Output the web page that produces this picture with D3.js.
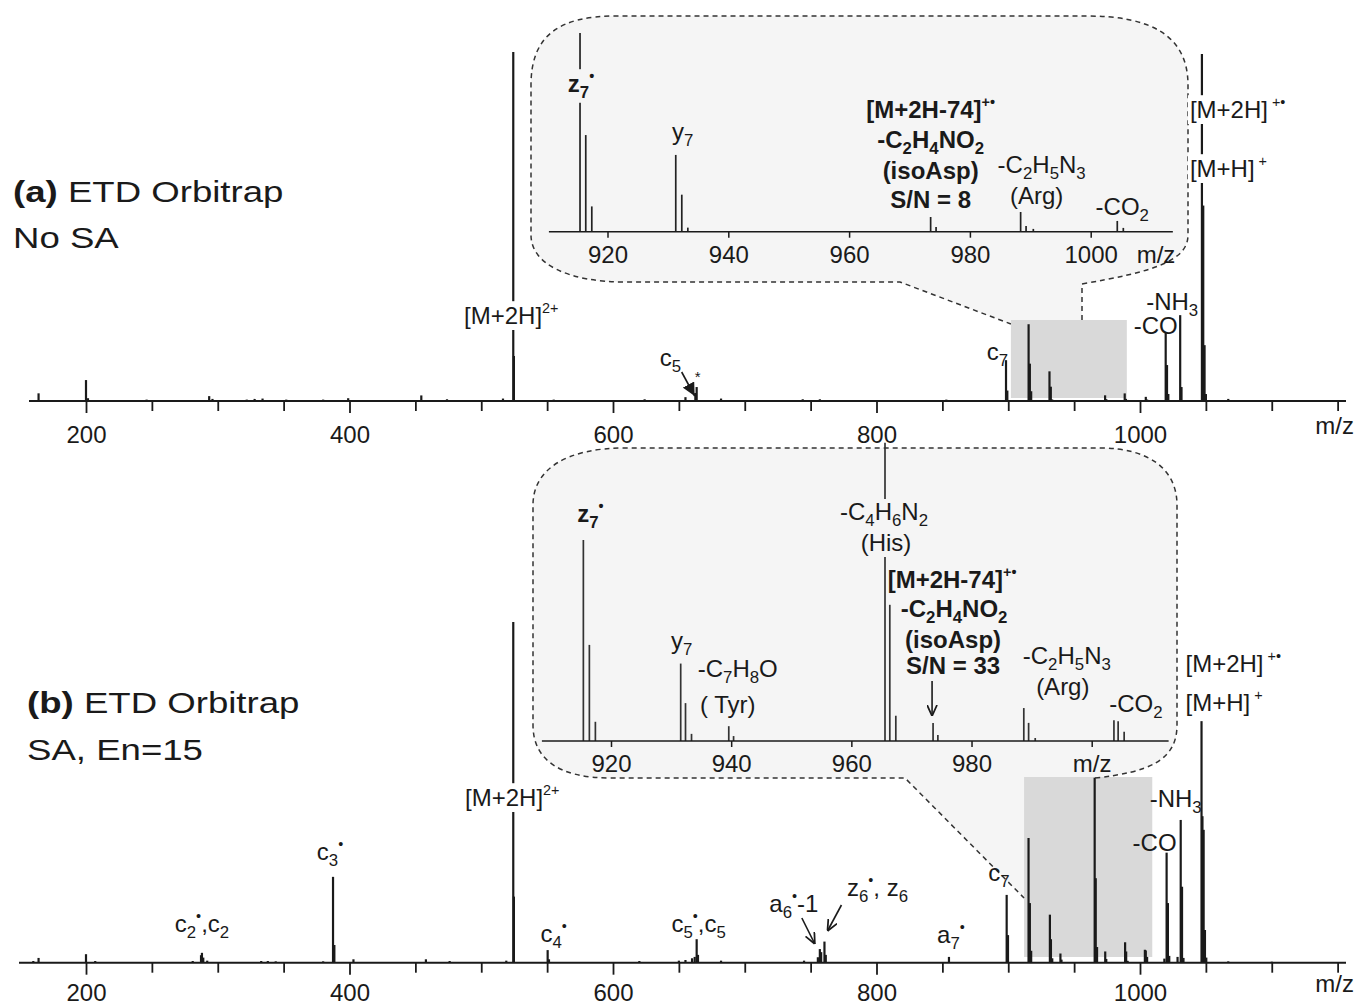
<!DOCTYPE html>
<html>
<head>
<meta charset="utf-8">
<script src="https://cdnjs.cloudflare.com/ajax/libs/d3/7.8.5/d3.min.js"></script>
<style>
  body { margin: 0; background: #fff; }
</style>
</head>
<body>
<div id="chart"></div>
<script>
// DATA
// spectrum (a) ETD Orbitrap, no SA : [m/z, relative intensity %]
const specA = [
  [164, 2.2], [200, 6.0], [201.5, 0.8], [246, 0.4], [293.5, 1.4], [296, 0.6], [322, 0.4],
  [328, 0.6], [334, 0.7], [352, 0.4], [380, 0.4], [399, 0.8], [454.5, 1.6], [474, 0.5],
  [516.5, 0.7], [524.3, 100], [524.8, 12.9], [555, 0.4], [624, 0.5], [655, 1.1],
  [662.5, 2.3], [663.5, 4.0], [682, 0.7], [744, 0.5], [757, 0.5], [853, 0.4],
  [898.3, 11.7], [899.3, 3.0], [915.45, 22.0], [916.4, 10.7], [917.4, 2.8],
  [931.3, 8.5], [932.3, 4.1], [933.3, 0.45], [973.5, 1.63], [974.4, 0.53],
  [988.4, 2.18], [989.3, 0.64], [990.5, 0.31], [1004.4, 1.19], [1005.4, 0.42],
  [1019.5, 19.5], [1020.5, 10.3], [1021.5, 2.0], [1030.5, 24.6], [1031.5, 4.0],
  [1047.0, 99.4], [1048.0, 56.0], [1049.0, 16.0], [1050.0, 2.0], [1067, 0.6]
]

// spectrum (b) ETD Orbitrap, SA En=15
const specB = [
  [160, 0.5], [164, 1.4], [200, 2.5], [207, 0.5], [281, 0.5], [287.3, 2.2], [288, 2.9],
  [289, 1.5], [292, 0.6], [333, 0.5], [338, 0.5], [344, 0.4], [380, 0.4], [387.5, 25.2],
  [388.5, 5.2], [403, 1.0], [458, 1.0], [476, 0.5], [519, 0.6], [524.3, 100], [524.8, 19.4],
  [550.4, 3.7], [551.4, 1.0], [620, 0.5], [650, 0.6], [655, 0.8], [660, 1.3], [662, 1.7],
  [663.5, 6.9], [664.5, 2.3], [682, 0.6], [745, 0.6], [755.5, 1.6], [757, 4.0], [758, 3.1],
  [760.5, 6.2], [761.5, 2.3], [855, 1.7], [898.8, 19.9], [899.8, 8.1],
  [915.4, 36.6], [916.4, 17.5], [917.4, 3.5], [931.6, 14.1], [932.4, 6.9], [933.4, 1.3],
  [939.6, 2.7], [940.4, 0.9], [965.6, 54.3], [966.4, 24.8], [967.4, 4.6], [973.6, 3.3],
  [974.4, 1.1], [988.7, 6.0], [989.5, 3.3], [990.6, 0.55], [1003.7, 3.8], [1004.4, 3.6],
  [1005.4, 1.7], [1018.5, 1.2], [1020.2, 32.3], [1021.2, 17.5], [1022.2, 2.0], [1028.5, 1.7],
  [1030.9, 41.9], [1031.9, 22.3], [1033, 1.4], [1046.7, 70.9], [1047.4, 43.0], [1048.3, 39.0],
  [1049.3, 9.6], [1050.3, 1.5], [1067, 0.4], [1100, 0.3]
]

// zoomed m/z windows (grey boxes) and inset axis extents
const zoomA = [902, 990]
const zoomB = [912, 1009.3]
const insetDomA = [910.3, 1013.6]
const insetDomB = [908.5, 1012.8]

// TICKS
const mainTicks = d3.range(200, 1151, 50)
const mainLabels = [200, 400, 600, 800, 1000]
const insetTicks = [920, 940, 960, 980, 1000]

// ANNOTATIONS (text, anchored on a peak m/z)
const annA = [
  { t: "[M+2H]^{2+}", mz: 524.3, dx: -2, y: 324, bg: "#fff" },
  { t: "c_{5}", mz: 663.5, dx: -37, y: 366, a: "start" },
  { t: "*", mz: 663.5, dx: 1, y: 382, fs: 15 },
  { t: "c_{7}", mz: 898.3, dx: 2, y: 360, a: "end" },
  { t: "-CO", mz: 1019.5, dx: 12, y: 334, a: "end" },
  { t: "-NH_{3}", mz: 1030.5, dx: 18, y: 310, a: "end" },
  { t: "[M+2H]^{ +•}", mz: 1047, dx: -12, y: 118, a: "start", bg: "#fff" },
  { t: "[M+H]^{ +}", mz: 1047, dx: -12, y: 177, a: "start", bg: "#fff" }
]
const annAi = [
  { t: "z_{7}^{•}", mz: 915.45, dx: 1, y: 92, b: true, bg: "#f5f5f5" },
  { t: "y_{7}", mz: 931.3, dx: 7, y: 140 },
  { t: "[M+2H-74]^{+•}", mz: 973.5, dx: 0, y: 118, b: true },
  { t: "-C_{2}H_{4}NO_{2}", mz: 973.5, dx: 0, y: 148, b: true },
  { t: "(isoAsp)", mz: 973.5, dx: 0, y: 179, b: true },
  { t: "S/N = 8", mz: 973.5, dx: 0, y: 208, b: true },
  { t: "-C_{2}H_{5}N_{3}", mz: 988.4, dx: 21, y: 173 },
  { t: "(Arg)", mz: 988.4, dx: 16, y: 204 },
  { t: "-CO_{2}", mz: 1004.4, dx: 5, y: 215 }
]
const annB = [
  { t: "[M+2H]^{2+}", mz: 524.3, dx: -1, y: 806, bg: "#fff" },
  { t: "c_{3}^{•}", mz: 387.5, dx: -3, y: 860 },
  { t: "c_{2}^{•},c_{2}", mz: 288, dx: 0, y: 932 },
  { t: "c_{4}^{•}", mz: 550.4, dx: 6, y: 942 },
  { t: "c_{5}^{•},c_{5}", mz: 663.5, dx: 2, y: 932 },
  { t: "a_{6}^{•}-1", mz: 757, dx: -26, y: 912 },
  { t: "z_{6}^{•}, z_{6}", mz: 760.5, dx: 53, y: 896 },
  { t: "a_{7}^{•}", mz: 855, dx: 2, y: 943 },
  { t: "c_{7}", mz: 898.8, dx: 3, y: 881, a: "end" },
  { t: "-CO", mz: 1020.2, dx: 10, y: 851, a: "end" },
  { t: "-NH_{3}", mz: 1030.9, dx: 21, y: 807, a: "end" },
  { t: "[M+2H]^{ +•}", mz: 1046.7, dx: -16, y: 672, a: "start" },
  { t: "[M+H]^{ +}", mz: 1046.7, dx: -16, y: 711, a: "start" }
]
const annBi = [
  { t: "z_{7}^{•}", mz: 915.4, dx: 7, y: 522, b: true },
  { t: "-C_{4}H_{6}N_{2}", mz: 965.6, dx: -1, y: 520, bg: "#f5f5f5" },
  { t: "(His)", mz: 965.6, dx: 1, y: 551, bg: "#f5f5f5" },
  { t: "[M+2H-74]^{+•}", mz: 973.6, dx: 19, y: 588, b: true },
  { t: "-C_{2}H_{4}NO_{2}", mz: 973.6, dx: 21, y: 617, b: true },
  { t: "(isoAsp)", mz: 973.6, dx: 20, y: 648, b: true },
  { t: "S/N = 33", mz: 973.6, dx: 20, y: 674, b: true },
  { t: "y_{7}", mz: 931.6, dx: 1, y: 649 },
  { t: "-C_{7}H_{8}O", mz: 939.6, dx: 9, y: 677 },
  { t: "( Tyr)", mz: 939.6, dx: -1, y: 713 },
  { t: "-C_{2}H_{5}N_{3}", mz: 988.7, dx: 43, y: 664 },
  { t: "(Arg)", mz: 988.7, dx: 39, y: 695 },
  { t: "-CO_{2}", mz: 1003.7, dx: 22, y: 712 }
]

const W = 1358, H = 1006
const FONT = "'Liberation Sans', Arial, Helvetica, sans-serif"
const INK = "#1a1a1a"

// SCALES
const x = d3.scaleLinear().domain([200, 1000]).range([86, 1140])
const yA = d3.scaleLinear().domain([0, 100]).range([401, 52])
const yB = d3.scaleLinear().domain([0, 100]).range([962.7, 622])
const xAi = d3.scaleLinear().domain([920, 1000]).range([607.5, 1090.7])
const yAi = d3.scaleLinear().domain([0, 22]).range([231.7, 33])
const xBi = d3.scaleLinear().domain([920, 1000]).range([611, 1091.7])
const yBi = d3.scaleLinear().domain([0, 36.6]).range([741, 540])

const svg = d3.select("#chart").append("svg")
  .attr("width", W).attr("height", H)
  .style("font-family", FONT)

const defs = svg.append("defs")
defs.append("marker").attr("id", "headFill")
  .attr("viewBox", "0 0 10 10").attr("refX", 10).attr("refY", 5)
  .attr("markerUnits", "userSpaceOnUse").attr("markerWidth", 13).attr("markerHeight", 13)
  .attr("orient", "auto")
  .append("path").attr("d", "M0,0 L10,5 L0,10 z").attr("fill", INK)
defs.append("marker").attr("id", "headOpen")
  .attr("viewBox", "0 0 10 10").attr("refX", 10).attr("refY", 5)
  .attr("markerUnits", "userSpaceOnUse").attr("markerWidth", 11).attr("markerHeight", 11)
  .attr("orient", "auto")
  .append("path").attr("d", "M0,0.5 L10,5 L0,9.5").attr("fill", "none")
  .attr("stroke", INK).attr("stroke-width", 1.6)

// INSET FRAMES (rounded callouts with a funnel to the grey box)
function frameA(closed) {
  const p = d3.path()
  p.moveTo(1082, 320)
  p.lineTo(1082, 284)
  p.bezierCurveTo(1150, 272, 1188, 262, 1188, 235)
  p.lineTo(1188, 85)
  p.bezierCurveTo(1188, 35, 1150, 16, 1087, 16)
  p.lineTo(615, 16)
  p.bezierCurveTo(560, 16, 531, 35, 531, 85)
  p.lineTo(531, 235)
  p.bezierCurveTo(531, 265, 570, 282, 625, 282)
  p.lineTo(900, 282)
  p.lineTo(x(zoomA[0]), 324)
  if (closed) p.closePath()
  return p.toString()
}
function frameB(closed) {
  const p = d3.path()
  p.moveTo(1095, 778)
  p.bezierCurveTo(1150, 772, 1177, 760, 1177, 725)
  p.lineTo(1177, 505)
  p.bezierCurveTo(1177, 470, 1150, 448, 1100, 448)
  p.lineTo(625, 448)
  p.bezierCurveTo(565, 448, 533, 470, 533, 505)
  p.lineTo(533, 725)
  p.bezierCurveTo(533, 760, 560, 778, 610, 778)
  p.lineTo(905, 778)
  p.lineTo(x(zoomB[0]), 898)
  if (closed) { p.lineTo(x(zoomB[0]), 777); p.closePath() }
  return p.toString()
}

svg.append("path").attr("d", frameA(true)).attr("fill", "#f5f5f5")
svg.append("path").attr("d", frameB(true)).attr("fill", "#f5f5f5")

// GREY ZOOM BOXES
svg.append("rect").attr("x", x(zoomA[0])).attr("y", 320)
  .attr("width", x(zoomA[1]) - x(zoomA[0])).attr("height", 78).attr("fill", "#d9d9d9")
svg.append("rect").attr("x", x(zoomB[0])).attr("y", 777)
  .attr("width", x(zoomB[1]) - x(zoomB[0])).attr("height", 180).attr("fill", "#d9d9d9")

// DRAW PEAKS
function peaks(data, xs, ys, width, color) {
  svg.append("g")
    .selectAll("line")
    .data(data)
    .join("line")
    .attr("x1", d => xs(d[0]))
    .attr("x2", d => xs(d[0]))
    .attr("y1", ys(0))
    .attr("y2", d => ys(d[1]))
    .attr("stroke", color)
    .attr("stroke-width", width)
}
peaks(specA, x, yA, 2.2, INK)
peaks(specB, x, yB, 2.2, INK)
peaks(specA.filter(d => d[0] >= insetDomA[0] && d[0] <= insetDomA[1]), xAi, yAi, 1.7, "#222")
peaks(specB.filter(d => d[0] >= insetDomB[0] && d[0] <= insetDomB[1]), xBi, yBi, 1.7, "#333")

// dashed frame outlines
svg.append("path").attr("d", frameA(false)).attr("fill", "none")
  .attr("stroke", "#333").attr("stroke-width", 1.5).attr("stroke-dasharray", "5,4")
svg.append("path").attr("d", frameB(false)).attr("fill", "none")
  .attr("stroke", "#333").attr("stroke-width", 1.5).attr("stroke-dasharray", "5,4")

// DRAW AXES
function mainAxis(yBase, x0, x1, pad) {
  const g = svg.append("g")
    .attr("transform", `translate(0,${yBase})`)
    .call(d3.axisBottom(x)
      .tickValues(mainTicks)
      .tickSize(10)
      .tickPadding(pad)
      .tickFormat(d => mainLabels.includes(d) ? d : ""))
    .attr("font-size", 24).attr("font-family", FONT)
  g.select(".domain").remove()
  g.selectAll(".tick line").attr("stroke", INK).attr("stroke-width", 1.8)
    .filter(d => d % 200 === 0).attr("y2", 12)
  g.selectAll(".tick text").attr("fill", INK)
  g.append("line").attr("x1", x0).attr("x2", x1)
    .attr("stroke", INK).attr("stroke-width", 2)
  g.append("text").attr("x", 1354).attr("y", pad + 18).attr("text-anchor", "end")
    .attr("fill", INK).text("m/z")
}
mainAxis(yA(0), 29, 1346, 15)
mainAxis(yB(0), 19, 1346, 11)

function insetAxis(xs, yBase, dom, fmt) {
  const g = svg.append("g")
    .attr("transform", `translate(0,${yBase})`)
    .call(d3.axisBottom(xs).tickValues(insetTicks).tickSize(6).tickPadding(8).tickFormat(fmt))
    .attr("font-size", 24).attr("font-family", FONT)
  g.select(".domain").remove()
  g.selectAll(".tick line").attr("stroke", INK).attr("stroke-width", 1.5)
  g.selectAll(".tick text").attr("fill", INK)
  g.append("line").attr("x1", xs(dom[0])).attr("x2", xs(dom[1]))
    .attr("stroke", INK).attr("stroke-width", 1.6)
  return g
}
insetAxis(xAi, yAi(0), insetDomA, d => d)
  .append("text").attr("x", xAi(1000) + 46).attr("y", 31)
  .attr("text-anchor", "start").attr("fill", INK).text("m/z")
insetAxis(xBi, yBi(0), insetDomB, d => d === 1000 ? "m/z" : d)

// LABELS
function rich(sel, str, fs) {
  const parts = str.split(/(_\{[^}]*\}|\^\{[^}]*\})/).filter(s => s.length)
  let cur = 0
  parts.forEach(p => {
    let shift = 0, size = fs, txt = p
    if (p.startsWith("_{")) { shift = 0.24 * fs; size = 0.7 * fs; txt = p.slice(2, -1) }
    else if (p.startsWith("^{")) { shift = -0.45 * fs; size = 0.6 * fs; txt = p.slice(2, -1) }
    sel.append("tspan").attr("dy", shift - cur).attr("font-size", size).text(txt)
    cur = shift
  })
}

function labels(list, xs) {
  list.forEach(d => {
    const fs = d.fs || 24
    const t = svg.append("text")
      .attr("x", xs(d.mz) + d.dx)
      .attr("y", d.y)
      .attr("text-anchor", d.a || "middle")
      .attr("font-weight", d.b ? "bold" : "normal")
      .attr("font-size", fs)
      .attr("fill", INK)
    rich(t, d.t, fs)
    if (d.bg) {
      const bb = t.node().getBBox()
      svg.insert("rect", () => t.node())
        .attr("x", bb.x - 2).attr("y", bb.y + 1)
        .attr("width", bb.width + 4).attr("height", bb.height)
        .attr("fill", d.bg)
    }
  })
}
labels(annA, x)
labels(annB, x)
labels(annAi, xAi)
labels(annBi, xBi)

// ARROWS
function arrow(x1, y1, x2, y2, head) {
  svg.append("line")
    .attr("x1", x1).attr("y1", y1).attr("x2", x2).attr("y2", y2)
    .attr("stroke", INK).attr("stroke-width", 1.6)
    .attr("marker-end", `url(#${head})`)
}
arrow(x(663.5) - 15, 372, x(663.5) - 2, 396, "headFill")
arrow(x(757) - 18, 918, x(757) - 5, 944, "headOpen")
arrow(x(760.5) + 17, 905, x(760.5) + 3, 931, "headOpen")
arrow(xBi(973.6) - 1, 681, xBi(973.6) - 1, 716, "headOpen")

// PANEL TITLES
function title(tx, ty, bold, rest) {
  const t = svg.append("text")
    .attr("transform", `translate(${tx},${ty}) scale(1.22,1)`)
    .attr("font-size", 30).attr("fill", INK)
  if (bold) t.append("tspan").attr("font-weight", "bold").text(bold + " ")
  t.append("tspan").text(rest)
}
title(13, 202, "(a)", "ETD Orbitrap")
title(13, 248, null, "No SA")
title(27, 713, "(b)", "ETD Orbitrap")
title(27, 760, null, "SA, En=15")
</script>
</body>
</html>
